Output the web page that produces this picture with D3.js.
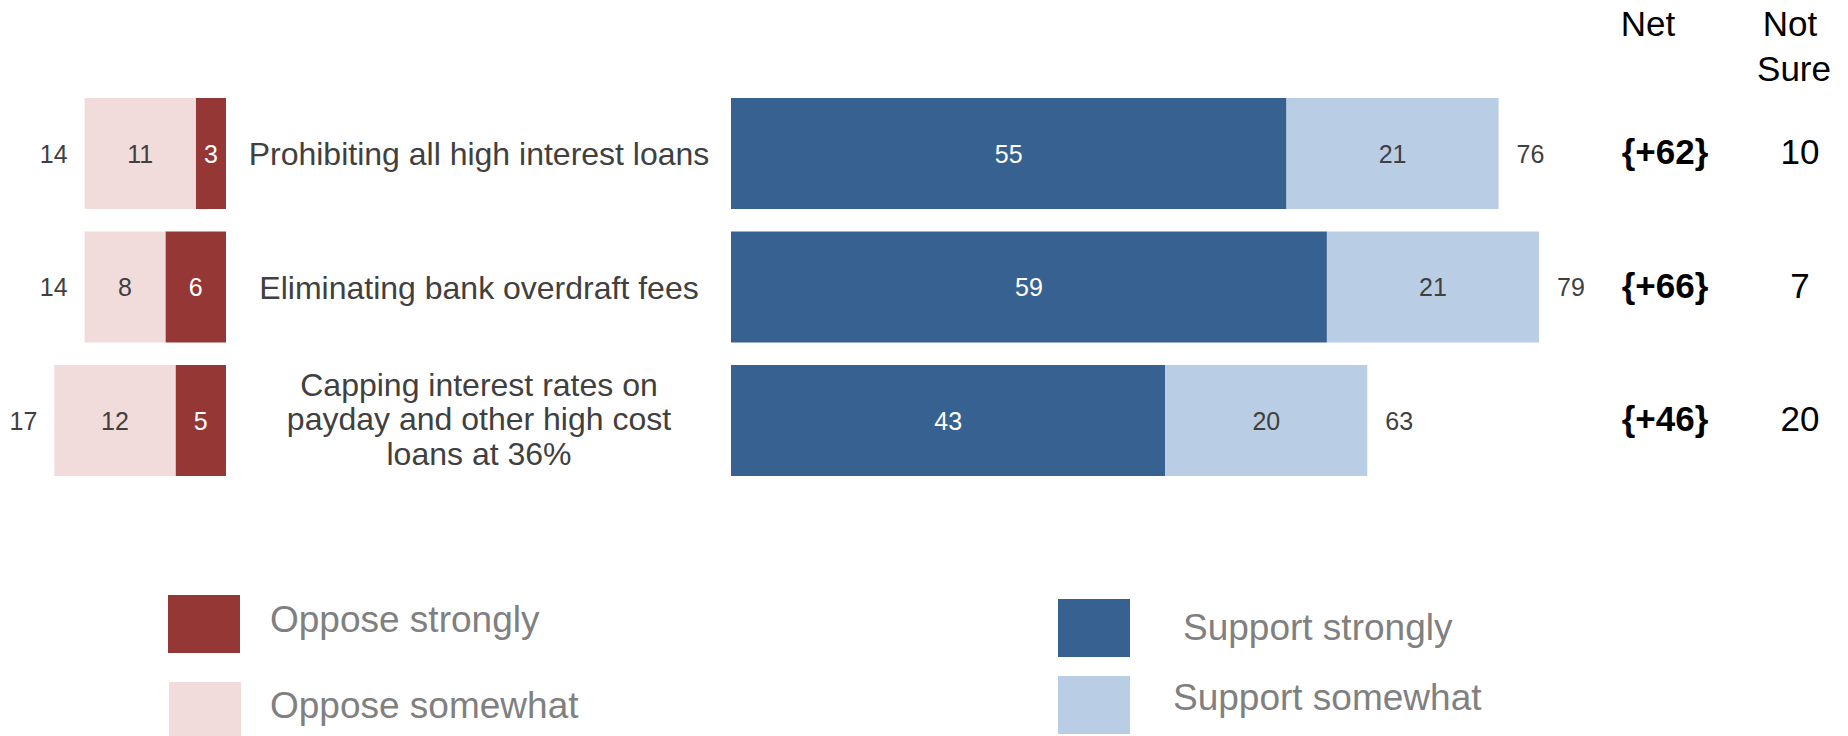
<!DOCTYPE html>
<html>
<head>
<meta charset="utf-8">
<script src="https://cdn.jsdelivr.net/npm/d3@7/dist/d3.min.js"></script>
<style>
  html, body { margin: 0; padding: 0; background: #ffffff; }
  svg { display: block; font-family: "Liberation Sans", Arial, sans-serif; }
</style>
</head>
<body>
<svg id="chart" width="1848" height="736"></svg>
<script>
// Survey items (one per row)
const categories = [
  ["Prohibiting all high interest loans"],
  ["Eliminating bank overdraft fees"],
  ["Capping interest rates on", "payday and other high cost", "loans at 36%"]
];
const categoryKeys = ["prohibit", "overdraft", "cap36"];

// Oppose side
const opposeStrongly = [3, 6, 5];
const opposeSomewhat = [11, 8, 12];
const opposeTotal = [14, 14, 17];

// Support side
const supportStrongly = [55, 59, 43];
const supportSomewhat = [21, 21, 20];
const supportTotal = [76, 79, 63];

// Extra columns
const netLabels = ["{+62}", "{+66}", "{+46}"];
const notSure = [10, 7, 20];

const legendOppose = ["Oppose strongly", "Oppose somewhat"];
const legendSupport = ["Support strongly", "Support somewhat"];

const colors = {
  opposeStrong: "#953735",
  opposeSome: "#F2DCDB",
  supportStrong: "#376191",
  supportSome: "#B9CDE5",
  label: "#404040",
  legend: "#808080"
};

const svg = d3.select("#chart");

const y = d3.scaleBand()
  .domain(categoryKeys)
  .range([98, 476])
  .paddingInner(0.1685)
  .paddingOuter(0);

// Right (support) and left (oppose) value scales share the same unit width
const xR = d3.scaleLinear().domain([0, 100]).range([731, 1741]);
const xL = d3.scaleLinear().domain([0, 100]).range([226, -784]);

const rows = categoryKeys.map((k, i) => ({
  key: k, i,
  lines: categories[i],
  os: opposeStrongly[i], ow: opposeSomewhat[i], ot: opposeTotal[i],
  ss: supportStrongly[i], sw: supportSomewhat[i], st: supportTotal[i],
  net: netLabels[i], ns: notSure[i]
}));

const g = svg.append("g");
const row = g.selectAll("g.row").data(rows).join("g").attr("class", "row");
const cy = d => y(d.key) + y.bandwidth() / 2;

// ---- Oppose bars (grow leftwards from the shared edge)
row.append("rect")
  .attr("x", d => xL(d.os))
  .attr("y", d => y(d.key))
  .attr("width", d => xL(0) - xL(d.os))
  .attr("height", y.bandwidth())
  .attr("fill", colors.opposeStrong);
row.append("rect")
  .attr("x", d => xL(d.os + d.ow))
  .attr("y", d => y(d.key))
  .attr("width", d => xL(d.os) - xL(d.os + d.ow))
  .attr("height", y.bandwidth())
  .attr("fill", colors.opposeSome);

row.append("text")
  .attr("x", d => (xL(0) + xL(d.os)) / 2)
  .attr("y", cy).attr("dy", "0.37em")
  .attr("text-anchor", "middle")
  .attr("font-size", 25).attr("fill", "#ffffff")
  .text(d => d.os);
row.append("text")
  .attr("x", d => (xL(d.os) + xL(d.os + d.ow)) / 2)
  .attr("y", cy).attr("dy", "0.37em")
  .attr("text-anchor", "middle")
  .attr("font-size", 25).attr("fill", colors.label)
  .text(d => d.ow);
row.append("text")
  .attr("x", d => xL(d.os + d.ow) - 17)
  .attr("y", cy).attr("dy", "0.37em")
  .attr("text-anchor", "end")
  .attr("font-size", 25).attr("fill", colors.label)
  .text(d => d.ot);

// ---- Category labels
const lineH = 34.5;
row.append("text")
  .attr("text-anchor", "middle")
  .attr("font-size", 32).attr("fill", colors.label)
  .each(function(d) {
    const t = d3.select(this);
    const n = d.lines.length;
    d.lines.forEach((ln, j) => {
      t.append("tspan")
        .attr("x", 479)
        .attr("y", cy(d) + (j - (n - 1) / 2) * lineH - (n > 1 ? 2 : 0))
        .attr("dy", "0.36em")
        .text(ln);
    });
  });

// ---- Support bars
row.append("rect")
  .attr("x", xR(0))
  .attr("y", d => y(d.key))
  .attr("width", d => xR(d.ss) - xR(0))
  .attr("height", y.bandwidth())
  .attr("fill", colors.supportStrong);
row.append("rect")
  .attr("x", d => xR(d.ss))
  .attr("y", d => y(d.key))
  .attr("width", d => xR(d.ss + d.sw) - xR(d.ss))
  .attr("height", y.bandwidth())
  .attr("fill", colors.supportSome);

row.append("text")
  .attr("x", d => (xR(0) + xR(d.ss)) / 2)
  .attr("y", cy).attr("dy", "0.37em")
  .attr("text-anchor", "middle")
  .attr("font-size", 25).attr("fill", "#ffffff")
  .text(d => d.ss);
row.append("text")
  .attr("x", d => (xR(d.ss) + xR(d.ss + d.sw)) / 2)
  .attr("y", cy).attr("dy", "0.37em")
  .attr("text-anchor", "middle")
  .attr("font-size", 25).attr("fill", colors.label)
  .text(d => d.sw);
row.append("text")
  .attr("x", d => xR(d.ss + d.sw) + 18)
  .attr("y", cy).attr("dy", "0.37em")
  .attr("text-anchor", "start")
  .attr("font-size", 25).attr("fill", colors.label)
  .text(d => d.st);

// ---- Net and Not Sure columns
row.append("text")
  .attr("x", 1665)
  .attr("y", cy).attr("dy", "0.3em")
  .attr("text-anchor", "middle")
  .attr("font-size", 35).attr("font-weight", "bold").attr("fill", "#000000")
  .text(d => d.net);
row.append("text")
  .attr("x", 1800)
  .attr("y", cy).attr("dy", "0.3em")
  .attr("text-anchor", "middle")
  .attr("font-size", 35).attr("fill", "#000000")
  .text(d => d.ns);

svg.append("text")
  .attr("x", 1648).attr("y", 36)
  .attr("text-anchor", "middle")
  .attr("font-size", 35).attr("fill", "#000000")
  .text("Net");
const ns = svg.append("text")
  .attr("text-anchor", "middle")
  .attr("font-size", 35).attr("fill", "#000000");
ns.append("tspan").attr("x", 1790).attr("y", 36).text("Not");
ns.append("tspan").attr("x", 1794).attr("y", 81).text("Sure");

// ---- Legend
const legendItems = [
  { label: legendOppose[0], color: colors.opposeStrong, sx: 168, sy: 595, tx: 270, ty: 632 },
  { label: legendOppose[1], color: colors.opposeSome, sx: 169, sy: 682, tx: 270, ty: 718 },
  { label: legendSupport[0], color: colors.supportStrong, sx: 1058, sy: 599, tx: 1183, ty: 640 },
  { label: legendSupport[1], color: colors.supportSome, sx: 1058, sy: 676, tx: 1173, ty: 710 }
];
const lg = svg.append("g").selectAll("g").data(legendItems).join("g");
lg.append("rect")
  .attr("x", d => d.sx).attr("y", d => d.sy)
  .attr("width", 72).attr("height", 58)
  .attr("fill", d => d.color);
lg.append("text")
  .attr("x", d => d.tx).attr("y", d => d.ty)
  .attr("font-size", 37).attr("fill", colors.legend)
  .text(d => d.label);
</script>
</body>
</html>
